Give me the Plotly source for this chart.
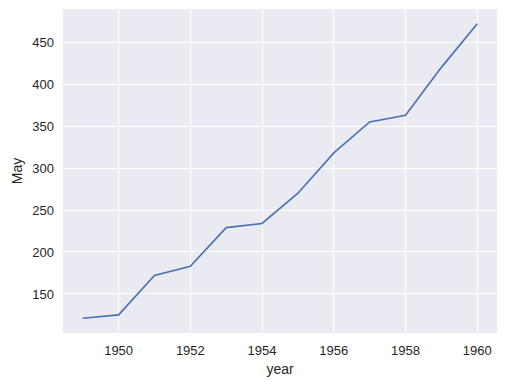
import plotly.graph_objects as go

years = [1949, 1950, 1951, 1952, 1953, 1954, 1955, 1956, 1957, 1958, 1959, 1960]
may = [121, 125, 172, 183, 229, 234, 270, 318, 355, 363, 420, 472]
x_ticks = [1950, 1952, 1954, 1956, 1958, 1960]
y_ticks = [150, 200, 250, 300, 350, 400, 450]

fig = go.Figure()
fig.add_trace(go.Scatter(x=years, y=may, mode="lines",
                         line=dict(color="#4C72B0", width=1.65)))

font = dict(family="Liberation Sans, Arial, sans-serif", color="#262626")
fig.update_layout(
    width=507, height=385,
    margin=dict(l=63, r=10, t=9, b=52, autoexpand=False),
    paper_bgcolor="white", plot_bgcolor="#EAEAF2",
    showlegend=False,
    font=dict(size=13, **font),
)
fig.update_xaxes(range=[1948.45, 1960.55], tickvals=x_ticks,
                 ticktext=[str(v) for v in x_ticks],
                 showgrid=True, gridcolor="white", gridwidth=1.2,
                 zeroline=False, showline=False, ticks="", automargin=False,
                 tickfont=dict(size=13), ticklabelstandoff=8,
                 title=dict(text="year", font=dict(size=14), standoff=7))
fig.update_yaxes(range=[103.45, 489.55], tickvals=y_ticks,
                 showgrid=True, gridcolor="white", gridwidth=1.2,
                 zeroline=False, showline=False, ticks="", automargin=False,
                 tickfont=dict(size=13), ticklabelstandoff=8,
                 title=dict(text="May", font=dict(size=14), standoff=6))

fig.write_html("out.html", config={"displayModeBar": False},
               post_script="document.body.style.margin='0';document.body.style.overflow='hidden';")
